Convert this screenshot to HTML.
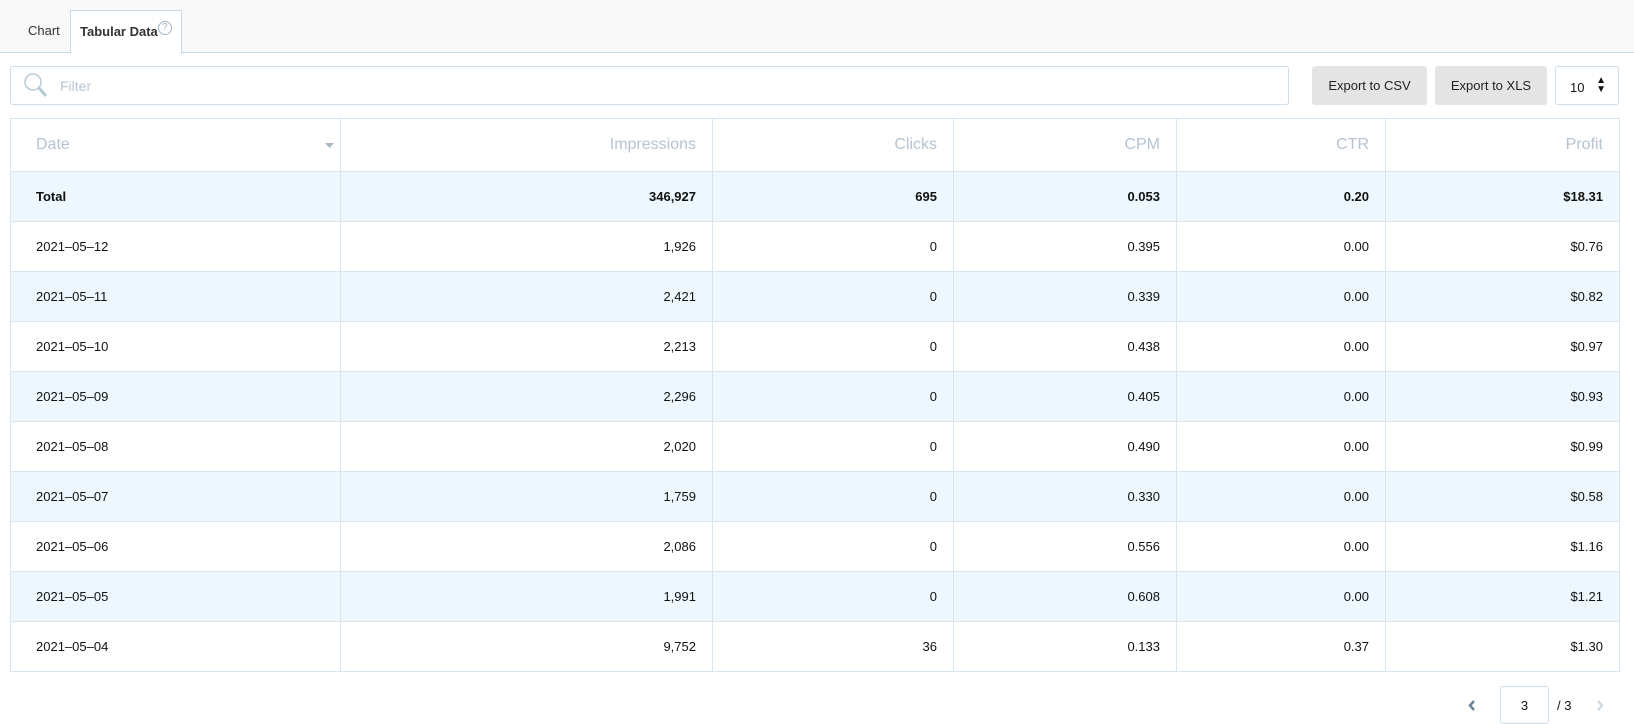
<!DOCTYPE html>
<html><head><meta charset="utf-8"><style>
*{box-sizing:border-box;margin:0;padding:0}
body{width:1634px;height:724px;background:#fff;font-family:"Liberation Sans",Arial,sans-serif;position:relative;overflow:hidden;color:#111}
.top{position:absolute;left:0;top:0;width:1634px;height:53px;background:#f8f8f8;border-bottom:1px solid #c9dbe6}
.tab{position:absolute;font-size:13px;color:#333}
.tab1{left:28px;top:23px}
.tab2{left:70px;top:10px;width:112px;height:44px;background:#fff;border:1px solid #c9dbe6;border-bottom:none;padding:13px 0 0 9px;font-weight:bold;color:#333}
.q{display:inline-block;width:14px;height:14px;border:1px solid #9fb8cc;border-radius:50%;font-size:10px;color:#9fb8cc;text-align:center;line-height:12px;font-weight:normal;vertical-align:top;margin-top:-3px}
.filter{position:absolute;left:10px;top:66px;width:1279px;height:39px;border:1px solid #cfdde8;border-radius:3px}
.filter span{position:absolute;left:49px;top:11px;font-size:14px;color:#b8c6d4}
.btn{position:absolute;top:66px;height:39px;background:#e4e4e4;border-radius:3px;font-size:13px;text-align:center;line-height:39px;color:#222}
.sel{position:absolute;left:1555px;top:66px;width:64px;height:39px;border:1px solid #cfdde8;border-radius:3px;font-size:13px;padding:13px 0 0 14px}
table{position:absolute;left:10px;top:118px;width:1609px;border-collapse:collapse;table-layout:fixed}
td,th{border:1px solid #d8e6ef;font-size:13px;text-align:right;padding:0 16px 0 0;height:50px}
th{height:53px;font-weight:normal;color:#b5c3d3;font-size:16px}
td:first-child,th:first-child{text-align:left;padding-left:25px}
th:first-child{position:relative}
tr:nth-child(even) td{background:#edf7fd}
tr.tot td{font-weight:bold}
.pg{position:absolute;top:686px;font-size:13px}
</style></head><body>
<div class="top"><div class="tab tab1">Chart</div><div class="tab tab2">Tabular Data<span class="q">?</span></div></div>
<div class="filter"><svg style="position:absolute;left:12px;top:5px" width="26" height="28"><circle cx="10" cy="10" r="8" fill="none" stroke="#b5cad9" stroke-width="1.5"/><line x1="16" y1="16" x2="23" y2="24" stroke="#b5cad9" stroke-width="3"/></svg><span>Filter</span></div>
<div class="btn" style="left:1312px;width:115px">Export to CSV</div>
<div class="btn" style="left:1435px;width:112px">Export to XLS</div>
<div class="sel">10<span style="position:absolute;right:12px;top:9px;font-size:10px;line-height:9px">▲<br>▼</span></div>
<table>
<colgroup><col style="width:330px"><col style="width:372px"><col style="width:241px"><col style="width:223px"><col style="width:209px"><col style="width:234px"></colgroup>
<tr><th>Date<svg style="position:absolute;right:6px;top:24px" width="9" height="5"><polygon points="0,0 9,0 4.5,5" fill="#aab8c6"/></svg></th><th>Impressions</th><th>Clicks</th><th>CPM</th><th>CTR</th><th>Profit</th></tr>
<tr class="tot"><td>Total</td><td>346,927</td><td>695</td><td>0.053</td><td>0.20</td><td>$18.31</td></tr>
<tr><td>2021–05–12</td><td>1,926</td><td>0</td><td>0.395</td><td>0.00</td><td>$0.76</td></tr>
<tr><td>2021–05–11</td><td>2,421</td><td>0</td><td>0.339</td><td>0.00</td><td>$0.82</td></tr>
<tr><td>2021–05–10</td><td>2,213</td><td>0</td><td>0.438</td><td>0.00</td><td>$0.97</td></tr>
<tr><td>2021–05–09</td><td>2,296</td><td>0</td><td>0.405</td><td>0.00</td><td>$0.93</td></tr>
<tr><td>2021–05–08</td><td>2,020</td><td>0</td><td>0.490</td><td>0.00</td><td>$0.99</td></tr>
<tr><td>2021–05–07</td><td>1,759</td><td>0</td><td>0.330</td><td>0.00</td><td>$0.58</td></tr>
<tr><td>2021–05–06</td><td>2,086</td><td>0</td><td>0.556</td><td>0.00</td><td>$1.16</td></tr>
<tr><td>2021–05–05</td><td>1,991</td><td>0</td><td>0.608</td><td>0.00</td><td>$1.21</td></tr>
<tr><td>2021–05–04</td><td>9,752</td><td>36</td><td>0.133</td><td>0.37</td><td>$1.30</td></tr>
</table>
<svg class="pg" style="left:1468px;top:700px" width="8" height="11"><polyline points="6,1 2,5.5 6,10" fill="none" stroke="#6c8499" stroke-width="2.5"/></svg>
<div class="pg" style="left:1500px;width:49px;height:38px;border:1px solid #cfdde8;border-radius:3px;text-align:center;line-height:37px">3</div>
<div class="pg" style="left:1557px;top:698px">/ 3</div>
<svg class="pg" style="left:1596px;top:700px" width="8" height="11"><polyline points="2,1 6,5.5 2,10" fill="none" stroke="#d0dbe4" stroke-width="2.5"/></svg>
</body></html>
